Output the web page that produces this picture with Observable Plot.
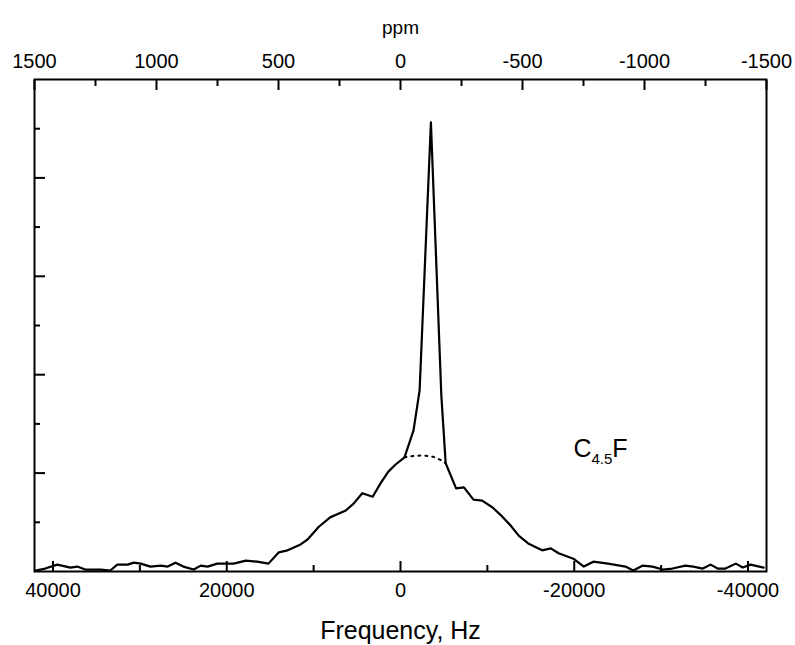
<!DOCTYPE html>
<html>
<head>
<meta charset="utf-8">
<script src="https://cdn.jsdelivr.net/npm/d3@7"></script>
<script src="https://cdn.jsdelivr.net/npm/@observablehq/plot@0.6"></script>
<style>
  html, body { margin: 0; padding: 0; background: #fff; }
  #chart svg { display: block; }
</style>
</head>
<body>
<div id="chart"></div>
<script>
// Spectrum (frequency in Hz, relative intensity)
const hz = [42000, 40900, 39500, 38000, 37200, 36300, 34500, 33400, 32600, 31400,
  30700, 29900, 28800, 27600, 26800, 25900, 25000, 23800, 23000, 22200,
  21100, 19200, 17800, 16500, 15200, 14000, 13000, 11500, 10700, 9400,
  8100, 6300, 5400, 4400, 3200, 2300, 1400, 600, -460, -1500,
  -2200, -3500, -4700, -5200, -6400, -7300, -8400, -9400, -10600, -11700,
  -12700, -13600, -14700, -16300, -17300, -18200, -19900, -21100, -22200, -23900,
  -25900, -26800, -27900, -29000, -30200, -31300, -32800, -33700, -34800, -35700,
  -36500, -37400, -38600, -39400, -40300, -41800];
const intensity = [0.02, 0.06, 0.14, 0.08, 0.10, 0.04, 0.04, 0.02, 0.14, 0.14,
  0.18, 0.16, 0.10, 0.12, 0.10, 0.18, 0.10, 0.04, 0.12, 0.10,
  0.16, 0.16, 0.22, 0.20, 0.16, 0.39, 0.43, 0.55, 0.65, 0.91,
  1.10, 1.24, 1.38, 1.59, 1.52, 1.79, 2.03, 2.17, 2.32, 2.87,
  3.68, 9.13, 3.58, 2.20, 1.69, 1.71, 1.46, 1.44, 1.30, 1.12,
  0.93, 0.73, 0.57, 0.43, 0.47, 0.37, 0.26, 0.10, 0.20, 0.16,
  0.10, 0.02, 0.12, 0.10, 0.04, 0.06, 0.12, 0.10, 0.06, 0.14,
  0.06, 0.06, 0.16, 0.08, 0.14, 0.08];

// Broad component under the narrow peak (dotted)
const broadHz = [-460, -1500, -2650, -3800, -4700, -5200];
const broadIntensity = [2.32, 2.35, 2.36, 2.33, 2.26, 2.20];

// Axis ticks
const hzTicks = [40000, 20000, 0, -20000, -40000];
const hzMinorTicks = [30000, 10000, -10000, -30000];
const ppmTicks = [1500, 1000, 500, 0, -500, -1000, -1500];
const ppmMinorTicks = [1250, 750, 250, -250, -750, -1250];
const yMajorTicks = [2, 4, 6, 8];
const yMinorTicks = [1, 3, 5, 7, 9];
const hzPerPpm = 28.087;
const hzLimit = 42130;

const spectrum = hz.map((h, i) => ({hz: h, v: intensity[i]}));
const broad = broadHz.map((h, i) => ({hz: h, v: broadIntensity[i]}));

const font = "'Liberation Sans', Arial, Helvetica, sans-serif";

const chart = Plot.plot({
  width: 795,
  height: 645,
  marginLeft: 34,
  marginRight: 29,
  marginTop: 79,
  marginBottom: 74,
  style: {fontFamily: font, background: "#fff", color: "#000", overflow: "visible"},
  x: {domain: [hzLimit, -hzLimit], axis: null},
  y: {domain: [0, 10], axis: null},
  marks: [
    Plot.frame({stroke: "#000", strokeWidth: 2}),
    // bottom axis (Hz)
    Plot.axisX(hzTicks, {anchor: "bottom", tickSize: -10, strokeWidth: 2, label: null, tickFormat: () => ""}),
    Plot.axisX(hzMinorTicks, {anchor: "bottom", tickSize: -6, strokeWidth: 2, label: null, tickFormat: () => ""}),
    Plot.axisX(hzTicks, {anchor: "bottom", tickSize: 0, tickPadding: 11, fontSize: 20, label: null, tickFormat: d => String(d)}),
    // top axis (ppm)
    Plot.axisX(ppmTicks.map(p => p * hzPerPpm), {anchor: "top", tickSize: -10, strokeWidth: 2, label: null, tickFormat: () => ""}),
    Plot.axisX(ppmMinorTicks.map(p => p * hzPerPpm), {anchor: "top", tickSize: -6, strokeWidth: 2, label: null, tickFormat: () => ""}),
    Plot.axisX(ppmTicks.map(p => p * hzPerPpm), {anchor: "top", tickSize: 0, tickPadding: 12, fontSize: 20, label: null,
      tickFormat: d => String(Math.round(d / hzPerPpm))}),
    // left axis ticks only
    Plot.axisY(yMajorTicks, {anchor: "left", tickSize: -11, strokeWidth: 2, label: null, tickFormat: () => ""}),
    Plot.axisY(yMinorTicks, {anchor: "left", tickSize: -6, strokeWidth: 2, label: null, tickFormat: () => ""}),
    // axis titles
    Plot.text(["ppm"], {frameAnchor: "top", dy: -46, fontSize: 19, lineAnchor: "bottom", textAnchor: "middle"}),
    Plot.text(["Frequency, Hz"], {frameAnchor: "bottom", dy: 67, fontSize: 25, lineAnchor: "bottom", textAnchor: "middle"}),
    // data
    Plot.line(broad, {x: "hz", y: "v", stroke: "#000", strokeWidth: 2, strokeDasharray: "2,5"}),
    Plot.line(spectrum, {x: "hz", y: "v", stroke: "#000", strokeWidth: 2.2, strokeLinejoin: "round"}),
    Plot.text(["C4.5F"], {x: -19900, y: 2.32, textAnchor: "start", lineAnchor: "bottom", fontSize: 25, className: "compound"})
  ]
});

document.getElementById("chart").appendChild(chart);

// render the subscript of the compound label
const lbl = chart.querySelector(".compound text");
if (lbl) {
  lbl.textContent = "";
  const ns = "http://www.w3.org/2000/svg";
  const t1 = document.createElementNS(ns, "tspan"); t1.textContent = "C";
  const t2 = document.createElementNS(ns, "tspan"); t2.textContent = "4.5";
  t2.setAttribute("dy", "7"); t2.setAttribute("font-size", "15");
  const t3 = document.createElementNS(ns, "tspan"); t3.textContent = "F";
  t3.setAttribute("dy", "-7");
  lbl.append(t1, t2, t3);
}
</script>
</body>
</html>
